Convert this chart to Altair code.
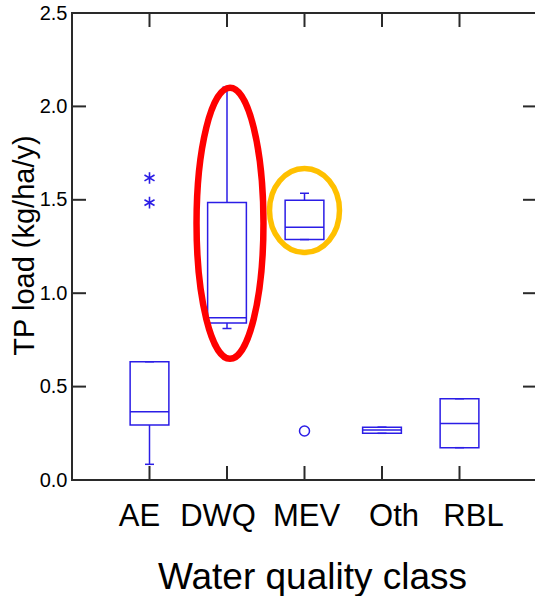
import altair as alt
import pandas as pd

# ---- data ----
classes = ["AE", "DWQ", "MEV", "Oth", "RBL"]
q1 = [0.294, 0.840, 1.287, 0.250, 0.173]
medians = [0.365, 0.868, 1.353, 0.267, 0.303]
q3 = [0.633, 1.485, 1.497, 0.283, 0.435]
whisker_low = [0.084, 0.811, 1.287, 0.250, 0.173]
whisker_high = [0.633, 2.103, 1.535, 0.283, 0.435]

far_out_class = ["AE", "AE"]
far_out_value = [1.617, 1.485]
near_out_class = ["MEV"]
near_out_value = [0.262]

y_tick_values = [0.0, 0.5, 1.0, 1.5, 2.0, 2.5]
inner_y_ticks = [0.5, 1.0, 1.5, 2.0]

red_class = ["DWQ"]
red_center = [1.374]
gold_class = ["MEV"]
gold_center = [1.443]

# ---- tables ----
boxes = pd.DataFrame({"cls": classes, "q1": q1, "med": medians, "q3": q3,
                      "wlo": whisker_low, "whi": whisker_high})
far_df = pd.DataFrame({"cls": far_out_class, "v": far_out_value})
near_df = pd.DataFrame({"cls": near_out_class, "v": near_out_value})
ytick_df = pd.DataFrame({"v": inner_y_ticks})
xtick_df = pd.DataFrame({"cls": classes})
red_df = pd.DataFrame({"cls": red_class, "v": red_center})
gold_df = pd.DataFrame({"cls": gold_class, "v": gold_center})

W, H = 465, 467
BLUE = "#2b1de6"
AXC = "#2a2a2a"
FONT = "Liberation Sans"

xscale = alt.Scale(type="band", domain=classes, paddingInner=0, paddingOuter=0.5)
yscale = alt.Scale(domain=[0, 2.5], nice=False, zero=False)

label_offsets = {
    "condition": [
        {"test": "datum.value === 'AE'", "value": -10},
        {"test": "datum.value === 'DWQ'", "value": -9},
        {"test": "datum.value === 'MEV'", "value": 2},
        {"test": "datum.value === 'Oth'", "value": 12},
        {"test": "datum.value === 'RBL'", "value": 14},
    ],
    "value": 0,
}

xaxis = alt.Axis(
    title="Water quality class", ticks=False, domain=False, grid=False,
    labelFont=FONT, labelFontSize=31, labelColor="black", labelPadding=21,
    labelAngle=0, labelOffset=label_offsets,
    titleFont=FONT, titleFontSize=37, titleFontWeight="normal", titleColor="black",
    titleX=240, titleY=108, titleBaseline="alphabetic", titleAlign="center",
)
yaxis = alt.Axis(
    title="TP load (kg/ha/y)", values=y_tick_values, format=".1f",
    ticks=False, domain=False, grid=False,
    labelFont=FONT, labelFontSize=20, labelColor="black", labelPadding=5,
    titleFont=FONT, titleFontSize=29, titleFontWeight="normal", titleColor="black",
    titleX=-39, titleY=232, titleBaseline="alphabetic", titleAlign="center", titleAngle=270,
)


def X():
    return alt.X("cls:N", scale=xscale, axis=xaxis, sort=classes)


def Y(field):
    return alt.Y(field, type="quantitative", scale=yscale, axis=yaxis)


# boxes
box = alt.Chart(boxes).mark_bar(
    width=alt.RelativeBandSize(0.5), fill="white", fillOpacity=0,
    stroke=BLUE, strokeWidth=1.5
).encode(x=X(), y=Y("q1"), y2="q3")

median = alt.Chart(boxes).mark_tick(size=39, thickness=1.5, color=BLUE, opacity=1).encode(
    x=X(), y=Y("med"))

whisk_up = alt.Chart(boxes).mark_rule(color=BLUE, strokeWidth=1.5).encode(
    x=X(), y=Y("q3"), y2="whi")
whisk_lo = alt.Chart(boxes).mark_rule(color=BLUE, strokeWidth=1.5).encode(
    x=X(), y=Y("wlo"), y2="q1")
cap_up = alt.Chart(boxes).mark_tick(size=9, thickness=1.5, color=BLUE, opacity=1).encode(
    x=X(), y=Y("whi"))
cap_lo = alt.Chart(boxes).mark_tick(size=9, thickness=1.5, color=BLUE, opacity=1).encode(
    x=X(), y=Y("wlo"))

ASTERISK = "M0,-1L0,1M-0.866,-0.5L0.866,0.5M-0.866,0.5L0.866,-0.5"
far = alt.Chart(far_df).mark_point(
    shape=ASTERISK, size=135, filled=False, stroke=BLUE, strokeWidth=1.6, opacity=1
).encode(x=X(), y=Y("v"))

near = alt.Chart(near_df).mark_point(
    shape="circle", size=100, filled=False, stroke=BLUE, strokeWidth=1.5, opacity=1
).encode(x=X(), y=Y("v"))

K = 0.5523


def ellipse(a):
    return (f"M{a},0 C{a},{K} {a*K:.4f},1 0,1 C{-a*K:.4f},1 {-a},{K} {-a},0 "
            f"C{-a},{-K} {-a*K:.4f},-1 0,-1 C{a*K:.4f},-1 {a},{-K} {a},0 Z")


red = alt.Chart(red_df).mark_point(
    shape=ellipse(0.247), size=271 ** 2, filled=False, stroke="#ff0000",
    strokeWidth=6.5, opacity=1, xOffset=3
).encode(x=X(), y=Y("v"))

gold = alt.Chart(gold_df).mark_point(
    shape=ellipse(0.833), size=84 ** 2, filled=False, stroke="#ffc000",
    strokeWidth=5.5, opacity=1, xOffset=0
).encode(x=X(), y=Y("v"))

# inward ticks on all four sides
left_ticks = alt.Chart(ytick_df).mark_rule(color=AXC, strokeWidth=2).encode(
    y=Y("v"), x=alt.value(0), x2=alt.value(14))
right_ticks = alt.Chart(ytick_df).mark_rule(color=AXC, strokeWidth=2).encode(
    y=Y("v"), x=alt.value(W - 14), x2=alt.value(W))
bottom_ticks = alt.Chart(xtick_df).mark_rule(color=AXC, strokeWidth=2).encode(
    x=X(), y=alt.value(H - 14), y2=alt.value(H))
top_ticks = alt.Chart(xtick_df).mark_rule(color=AXC, strokeWidth=2).encode(
    x=X(), y=alt.value(0), y2=alt.value(14))

chart = alt.layer(
    box, whisk_up, whisk_lo, cap_up, cap_lo, median, far, near,
    left_ticks, right_ticks, bottom_ticks, top_ticks, red, gold
).properties(
    width=W, height=H,
    autosize=alt.AutoSizeParams(type="none"),
    padding={"left": 72, "top": 13, "right": -2, "bottom": 116},
    background="white",
).configure_view(stroke=AXC, strokeWidth=2)

chart.save("out.html", embed_options={"renderer": "svg", "actions": False})
